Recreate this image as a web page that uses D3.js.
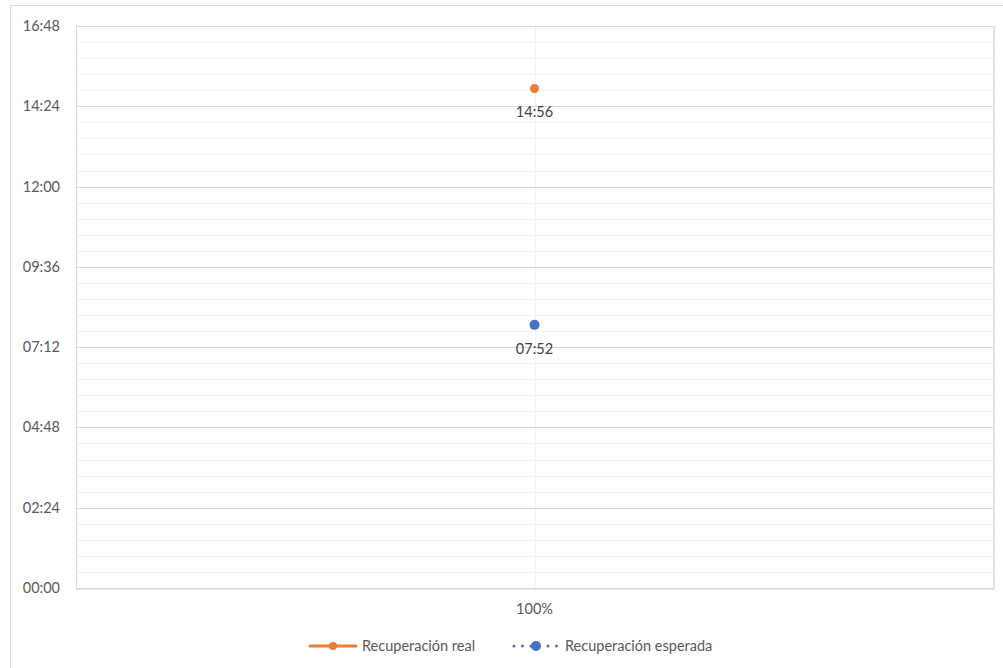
<!DOCTYPE html>
<html><head><meta charset="utf-8">
<script src="https://cdn.jsdelivr.net/npm/d3@7"></script>
<style>
body{margin:0;background:#fff;}
text{font-family:Lato,"Open Sans",sans-serif;fill:#595959;}
</style></head>
<body>
<svg id="c" width="1003" height="668"></svg>
<script>
const categories = ["100%"];
const realValues = ["14:56"];
const expectedValues = ["07:52"];
const tickLabels = ["00:00","02:24","04:48","07:12","09:36","12:00","14:24","16:48"];
const seriesNames = ["Recuperación real","Recuperación esperada"];

const toMin = s => { const [h,m] = s.split(":").map(Number); return h*60+m; };
const svg = d3.select("#c");
const FS = 14.5;
// outer border
svg.append("rect").attr("x",10.5).attr("y",5.5).attr("width",1003).attr("height",700)
  .attr("fill","none").attr("stroke","#d9d9d9");

const L=76,R=993,T=26,B=588;
const maxM = toMin(tickLabels[tickLabels.length-1]);
const y = d3.scaleLinear().domain([0,maxM]).range([B,T]);
const x = d3.scaleBand().domain(categories).range([L,R]);

const minor = d3.range(0, maxM+0.1, 28.8);
svg.append("g").selectAll("line").data(minor).join("line")
  .attr("x1",L).attr("x2",R).attr("y1",d=>Math.round(y(d))+0.5).attr("y2",d=>Math.round(y(d))+0.5)
  .attr("stroke","#f2f2f2").attr("stroke-width",1);
// vertical gridline
const vx = Math.round(x(categories[0])+x.bandwidth()/2)+0.5;
svg.append("line").attr("x1",vx).attr("x2",vx).attr("y1",T).attr("y2",B).attr("stroke","#f2f2f2");
const majors = tickLabels.map(toMin);
svg.append("g").selectAll("line").data(majors).join("line")
  .attr("x1",L).attr("x2",R).attr("y1",d=>Math.round(y(d))+0.5).attr("y2",d=>Math.round(y(d))+0.5)
  .attr("stroke","#d9d9d9").attr("stroke-width",1);
// plot border
svg.append("rect").attr("x",L+0.5).attr("y",T+0.5).attr("width",R-L).attr("height",B-T)
  .attr("fill","none").attr("stroke","#d9d9d9");
svg.append("line").attr("x1",R+1).attr("x2",R+1).attr("y1",T).attr("y2",B+1).attr("stroke","#e3e3e3").attr("stroke-width",2);
svg.append("line").attr("x1",L).attr("x2",R+1).attr("y1",B+1.5).attr("y2",B+1.5).attr("stroke","#e3e3e3").attr("stroke-width",1);

// y labels
svg.append("g").selectAll("text").data(tickLabels).join("text")
  .attr("x",60).attr("y",d=>y(toMin(d))+5).attr("text-anchor","end").attr("font-size",FS).text(d=>d);
// x labels
svg.append("g").selectAll("text").data(categories).join("text")
  .attr("x",d=>x(d)+x.bandwidth()/2).attr("y",614).attr("text-anchor","middle").attr("font-size",FS).text(d=>d);

const cx = c => x(c)+x.bandwidth()/2;
const series = [
  {vals: realValues, color:"#ed7d31", r:4.5},
  {vals: expectedValues, color:"#4472c4", r:5}
];
series.forEach(s=>{
  const g = svg.append("g");
  g.selectAll("circle").data(categories).join("circle")
    .attr("cx",(d)=>cx(d)).attr("cy",(d,i)=>y(toMin(s.vals[i]))).attr("r",s.r).attr("fill",s.color);
  g.selectAll("text").data(categories).join("text")
    .attr("x",d=>cx(d)).attr("y",(d,i)=>y(toMin(s.vals[i]))+29).attr("text-anchor","middle").attr("font-size",FS)
    .style("fill","#404040").text((d,i)=>s.vals[i]);
});

// legend
const ly = 646;
const lg = svg.append("g");
lg.append("line").attr("x1",310).attr("x2",356).attr("y1",ly).attr("y2",ly).attr("stroke","#ed7d31").attr("stroke-width",3).attr("stroke-linecap","round");
lg.append("circle").attr("cx",333).attr("cy",ly).attr("r",4).attr("fill","#ed7d31");
lg.append("text").attr("x",362).attr("y",ly+5).attr("font-size",FS).text(seriesNames[0]);
lg.append("line").attr("x1",514).attr("x2",557).attr("y1",ly).attr("y2",ly).attr("stroke","#4472c4").attr("stroke-width",3).attr("stroke-dasharray","0,8.5").attr("stroke-linecap","round");
lg.append("circle").attr("cx",536).attr("cy",ly).attr("r",5).attr("fill","#4472c4");
lg.append("text").attr("x",565).attr("y",ly+5).attr("font-size",FS).text(seriesNames[1]);
</script>
</body></html>
